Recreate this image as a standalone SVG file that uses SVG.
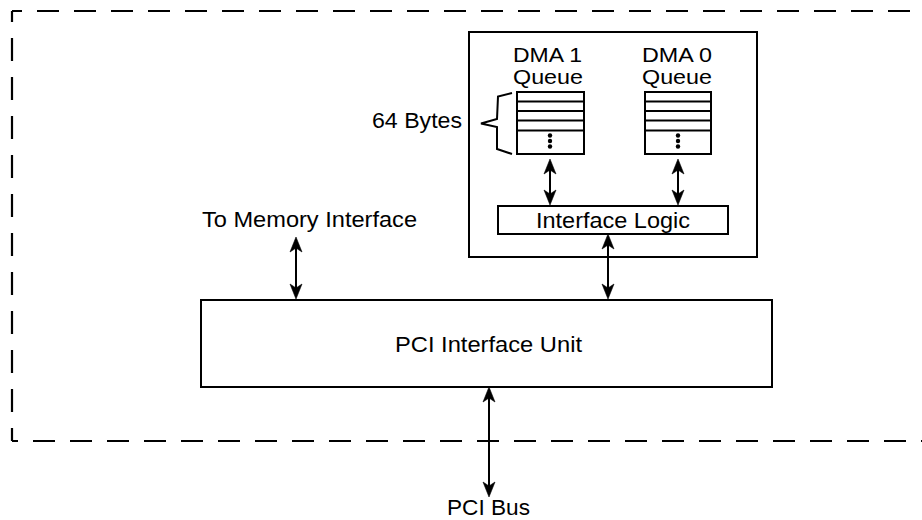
<svg xmlns="http://www.w3.org/2000/svg" width="922" height="520" viewBox="0 0 922 520">
<style>
text{font-family:"Liberation Sans",Arial,sans-serif;font-size:22px;fill:#000}
.sm{font-size:21px}
.box{fill:#fff;stroke:#000;stroke-width:2}
.ln{fill:none;stroke:#000;stroke-width:2}
.dash{fill:none;stroke:#000;stroke-width:2.2}
.conn{fill:none;stroke:#000;stroke-width:2;marker-start:url(#ah);marker-end:url(#ah)}
</style>
<defs>
<marker id="ah" viewBox="-18 -8 19 16" markerUnits="userSpaceOnUse" markerWidth="19" markerHeight="16" refX="-3" refY="0" orient="auto-start-reverse">
<path d="M0,0 L-15,-6 L-11,0 L-15,6 Z" fill="#000" stroke="#000" stroke-width="0.6" stroke-linejoin="round"/>
</marker>
</defs>
<g id="boundary">
<path class="dash" d="M12,11 H922" stroke-dasharray="22 15" stroke-dashoffset="12"/>
<path class="dash" d="M12,11 V441" stroke-dasharray="23 16" stroke-dashoffset="12"/>
<path class="dash" d="M12,441 H922" stroke-dasharray="22 15" stroke-dashoffset="16"/>
</g>
<g id="dma-block">
<rect class="box" x="469" y="32" width="288" height="225"/>
</g>
<g id="dma1-queue">
<text class="sm" x="513" y="62" textLength="69" lengthAdjust="spacingAndGlyphs">DMA 1</text>
<text class="sm" x="513" y="84" textLength="70" lengthAdjust="spacingAndGlyphs">Queue</text>
<rect class="box" x="517" y="92" width="67" height="62"/>
<path class="ln" d="M516,101.5 H584 M516,111 H584 M516,120.5 H584 M516,130.5 H584"/>
<circle cx="550" cy="135.5" r="2.2"/><circle cx="550" cy="141" r="2.2"/><circle cx="550" cy="146.5" r="2.2"/>
</g>
<g id="dma0-queue">
<text class="sm" x="642" y="62" textLength="70" lengthAdjust="spacingAndGlyphs">DMA 0</text>
<text class="sm" x="642" y="84" textLength="70" lengthAdjust="spacingAndGlyphs">Queue</text>
<rect class="box" x="645" y="92" width="66" height="62"/>
<path class="ln" d="M645,101.5 H711 M645,111 H711 M645,120.5 H711 M645,130.5 H711"/>
<circle cx="678" cy="135.5" r="2.2"/><circle cx="678" cy="141" r="2.2"/><circle cx="678" cy="146.5" r="2.2"/>
</g>
<g id="bytes-label">
<text x="372" y="128" textLength="90" lengthAdjust="spacingAndGlyphs">64 Bytes</text>
<path class="ln" d="M512,93 L498,96.5 L497,119 L481,123.5 L497,127 L497,149 L512,154"/>
</g>
<g id="interface-logic">
<rect class="box" x="498" y="206" width="230" height="28"/>
<text x="536" y="228" textLength="154" lengthAdjust="spacingAndGlyphs">Interface Logic</text>
</g>
<g id="memory-label">
<text x="202" y="227" textLength="215" lengthAdjust="spacingAndGlyphs">To Memory Interface</text>
</g>
<g id="pci-unit">
<rect class="box" x="201" y="300" width="571" height="87"/>
<text x="395" y="352" textLength="187" lengthAdjust="spacingAndGlyphs">PCI Interface Unit</text>
</g>
<g id="pci-bus">
<text x="447" y="515" textLength="83" lengthAdjust="spacingAndGlyphs">PCI Bus</text>
</g>
<g id="connectors">
<path class="conn" d="M550,162 V202"/>
<path class="conn" d="M678,162 V202"/>
<path class="conn" d="M608,237 V296"/>
<path class="conn" d="M296,240 V296"/>
<path class="conn" d="M489,390 V494"/>
</g>
</svg>
